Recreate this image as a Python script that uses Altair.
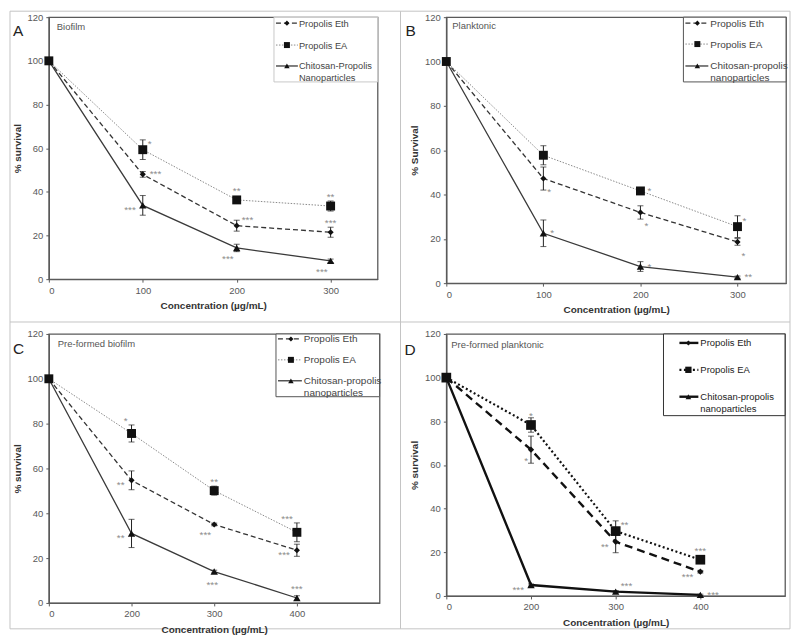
import altair as alt
import pandas as pd

FONT = "Liberation Sans"
XTITLE = "Concentration (µg/mL)"
KEYS = ["eth", "ea", "cp"]

# ---------------- Panel A: Biofilm ----------------
A_conc = [0, 100, 200, 300]
A_eth = [100, 48.0, 24.5, 21.5]
A_eth_err = [0, 1.3, 2.5, 2.3]
A_ea = [100, 59.3, 36.3, 33.5]
A_ea_err = [0, 4.5, 1.0, 2.3]
A_cp = [100, 33.8, 14.3, 8.4]
A_cp_err = [0, 4.5, 1.7, 0.8]
A_eth_sig = ["", "***", "***", "***"]
A_ea_sig = ["", "*", "**", "**"]
A_cp_sig = ["", "***", "***", "***"]
A_eth_side = ["", "R", "AR", "A"]
A_ea_side = ["", "AR", "A", "A"]
A_cp_side = ["", "L", "BL", "BL"]
A_legend = ["Propolis Eth", "Propolis EA", "Chitosan-Propolis\nNanoparticles"]

# ---------------- Panel B: Planktonic ----------------
B_conc = [0, 100, 200, 300]
B_eth = [100, 47.2, 31.9, 18.6]
B_eth_err = [0, 5.2, 3.0, 1.5]
B_ea = [100, 57.7, 41.6, 25.5]
B_ea_err = [0, 4.3, 1.5, 4.9]
B_cp = [100, 22.5, 7.5, 2.7]
B_cp_err = [0, 6.0, 2.2, 0.5]
B_eth_sig = ["", "*", "*", "*"]
B_ea_sig = ["", "", "*", "*"]
B_cp_sig = ["", "*", "*", "**"]
B_eth_side = ["", "BR", "BR", "BR"]
B_ea_side = ["", "", "R", "AR"]
B_cp_side = ["", "R", "R", "R"]
B_legend = ["Propolis Eth", "Propolis EA", "Chitosan-propolis\nnanoparticles"]

# ---------------- Panel C: Pre-formed biofilm ----------------
C_conc = [0, 200, 300, 400]
C_eth = [100, 54.7, 35.0, 23.5]
C_eth_err = [0, 4.2, 0.6, 2.7]
C_ea = [100, 75.6, 50.1, 31.5]
C_ea_err = [0, 3.8, 2.0, 4.2]
C_cp = [100, 31.0, 14.0, 2.2]
C_cp_err = [0, 6.3, 0.6, 1.0]
C_eth_sig = ["", "**", "***", "***"]
C_ea_sig = ["", "*", "**", "***"]
C_cp_sig = ["", "**", "***", "***"]
C_eth_side = ["", "L", "BL", "L"]
C_ea_side = ["", "AL", "A", "AL"]
C_cp_side = ["", "L", "B", "A"]
C_legend = ["Propolis Eth", "Propolis EA", "Chitosan-propolis\nnanoparticles"]

# ---------------- Panel D: Pre-formed planktonic ----------------
D_conc = [0, 200, 300, 400]
D_eth = [100, 67.0, 24.8, 11.1]
D_eth_err = [0, 6.2, 5.0, 0.6]
D_ea = [100, 78.3, 29.7, 16.6]
D_ea_err = [0, 3.3, 4.7, 1.0]
D_cp = [100, 5.0, 2.0, 0.5]
D_cp_err = [0, 0.5, 0.5, 0.3]
D_eth_sig = ["", "*", "**", "***"]
D_ea_sig = ["", "*", "**", "***"]
D_cp_sig = ["", "***", "***", "***"]
D_eth_side = ["", "BL", "L", "L"]
D_ea_side = ["", "A", "AR", "A"]
D_cp_side = ["", "L", "AR", "R"]
D_legend = ["Propolis Eth", "Propolis EA", "Chitosan-propolis\nnanoparticles"]


def frame_of(conc, vals, errs, sigs, sides):
    rows = []
    for k, v, e, s, sd in zip(KEYS, vals, errs, sigs, sides):
        for i, c in enumerate(conc):
            rows.append({"series": k, "conc": c, "pos": i, "mean": v[i],
                         "lo": v[i] - e[i], "hi": v[i] + e[i], "err": e[i],
                         "sig": s[i], "side": sd[i]})
    return pd.DataFrame(rows)


dfA = frame_of(A_conc, [A_eth, A_ea, A_cp], [A_eth_err, A_ea_err, A_cp_err],
               [A_eth_sig, A_ea_sig, A_cp_sig], [A_eth_side, A_ea_side, A_cp_side])
dfB = frame_of(B_conc, [B_eth, B_ea, B_cp], [B_eth_err, B_ea_err, B_cp_err],
               [B_eth_sig, B_ea_sig, B_cp_sig], [B_eth_side, B_ea_side, B_cp_side])
dfC = frame_of(C_conc, [C_eth, C_ea, C_cp], [C_eth_err, C_ea_err, C_cp_err],
               [C_eth_sig, C_ea_sig, C_cp_sig], [C_eth_side, C_ea_side, C_cp_side])
dfD = frame_of(D_conc, [D_eth, D_ea, D_cp], [D_eth_err, D_ea_err, D_cp_err],
               [D_eth_sig, D_ea_sig, D_cp_sig], [D_eth_side, D_ea_side, D_cp_side])

# ---------------- styles ----------------
STYLE_LIGHT = {
    "eth": dict(dash=[5, 3], color="#333333", width=1.3, shape="diamond", size=38, lsize=26),
    "ea": dict(dash=[1.5, 1.5], color="#8a8a8a", width=1.0, shape="square", size=80, lsize=36),
    "cp": dict(dash=None, color="#3a3a3a", width=1.3, shape="triangle-up", size=55, lsize=30),
}
STYLE_BOLD = {
    "eth": dict(dash=[8, 5], color="#111111", width=2.4, shape="diamond", size=40, lsize=26),
    "ea": dict(dash=[2, 2.5], color="#111111", width=2.2, shape="square", size=95, lsize=40),
    "cp": dict(dash=None, color="#111111", width=2.4, shape="triangle-up", size=55, lsize=32),
}
LEGEND_BOLD = dict(STYLE_BOLD)
LEGEND_BOLD["eth"] = dict(STYLE_BOLD["eth"], dash=None)

SIDES = {
    "R": ("left", 7, -3),
    "AR": ("left", 5, -9),
    "BR": ("left", 4, 11),
    "L": ("right", -7, 2),
    "AL": ("right", -4, -16),
    "BL": ("right", -3, 8),
    "A": ("center", 0, -12),
    "B": ("center", -2, 11),
}
STAR_V = 6

ONE = pd.DataFrame({"k": [0]})


def line_kw(st):
    kw = dict(color=st["color"], strokeWidth=st["width"])
    if st["dash"]:
        kw["strokeDash"] = st["dash"]
    return kw


def panel(df, conc, cat, L, styles, legend_labels, legend_styles, frame=False):
    xf = "pos" if cat else "conc"
    if cat:
        labs = [str(c) for c in conc]
        expr = "[" + ",".join("'%s'" % s for s in labs) + "][datum.value]"
        xaxis = alt.Axis(values=list(range(len(conc))), labelExpr=expr, title=XTITLE)
        xdom = [0, len(conc)]
    else:
        xaxis = alt.Axis(values=conc, title=XTITLE)
        xdom = [0, 350]

    def X():
        return alt.X(f"{xf}:Q", scale=alt.Scale(domain=xdom, nice=False, zero=False), axis=xaxis)

    def Y(f):
        return alt.Y(f"{f}:Q", scale=alt.Scale(domain=[0, 120], nice=False),
                     axis=alt.Axis(values=list(range(0, 121, 20)), title=L["ytitle"]))

    layers = []
    if frame:
        layers.append(alt.Chart(ONE).mark_rect(fill="white", fillOpacity=0, stroke="#c4c4c4", strokeWidth=1).encode(
            x=alt.value(-39), x2=alt.value(744), y=alt.value(-6), y2=alt.value(614)))
        layers.append(alt.Chart(ONE).mark_rule(color="#c4c4c4", strokeWidth=1).encode(
            x=alt.value(353), y=alt.value(-6), y2=alt.value(614)))
        layers.append(alt.Chart(ONE).mark_rule(color="#c4c4c4", strokeWidth=1).encode(
            y=alt.value(306), x=alt.value(-39), x2=alt.value(744)))

    for k in KEYS:
        layers.append(alt.Chart(df[df.series == k]).mark_line(**line_kw(styles[k])).encode(x=X(), y=Y("mean")))
    eb = df[df.err > 0]
    layers.append(alt.Chart(eb).mark_rule(color="#222222", strokeWidth=1).encode(x=X(), y=Y("lo"), y2="hi:Q"))
    for f in ("lo", "hi"):
        layers.append(alt.Chart(eb).mark_tick(orient="horizontal", size=6, thickness=1, color="#222222")
                      .encode(x=X(), y=Y(f)))
    for k in KEYS:
        st = styles[k]
        layers.append(alt.Chart(df[df.series == k]).mark_point(
            shape=st["shape"], size=st["size"], filled=True, color="#111111", opacity=1
        ).encode(x=X(), y=Y("mean")))
    sig = df[df.sig != ""]
    for code, (al, dx, dy) in SIDES.items():
        sub = sig[sig.side == code]
        if len(sub) == 0:
            continue
        layers.append(alt.Chart(sub).mark_text(
            align=al, baseline="alphabetic", dx=dx, dy=dy + STAR_V, fontSize=10,
            color="#8c8c8c", font=FONT
        ).encode(x=X(), y=Y("mean"), text="sig:N"))

    # legend box
    bx0, bx1, by0, by1 = L["box"]
    layers.append(alt.Chart(ONE).mark_rect(fill="white", stroke=L["box_stroke"], strokeWidth=1).encode(
        x=alt.value(bx0), x2=alt.value(bx1), y=alt.value(by0), y2=alt.value(by1)))
    for k, lab, ly in zip(KEYS, legend_labels, L["ly"]):
        st = legend_styles[k]
        layers.append(alt.Chart(ONE).mark_rule(**line_kw(st)).encode(
            x=alt.value(L["sx"][0]), x2=alt.value(L["sx"][1]), y=alt.value(ly)))
        layers.append(alt.Chart(ONE).mark_point(
            shape=st["shape"], size=st["lsize"], filled=True, color="#111111", opacity=1
        ).encode(x=alt.value(L["mx"]), y=alt.value(ly)))
        layers.append(alt.Chart(pd.DataFrame({"t": [lab]})).mark_text(
            align="left", baseline="alphabetic", dy=3.5, fontSize=L["lfs"], color=L["lcol"],
            font=FONT, lineBreak="\n", lineHeight=12
        ).encode(x=alt.value(L["tx"]), y=alt.value(ly), text="t:N"))

    # panel title and letter
    layers.append(alt.Chart(ONE).mark_text(
        align="left", baseline="middle", fontSize=9.5, color="#555555", font=FONT, text=L["title"]
    ).encode(x=alt.value(L["title_xy"][0]), y=alt.value(L["title_xy"][1])))
    layers.append(alt.Chart(ONE).mark_text(
        align="left", baseline="alphabetic", fontSize=15.5, color="#222222", font=FONT, text=L["letter"]
    ).encode(x=alt.value(L["letter_xy"][0]), y=alt.value(L["letter_xy"][1])))

    return alt.layer(*layers).properties(width=L["w"], height=L["h"])


LA = dict(w=330, h=263, ytitle="% survival", title="Biofilm", title_xy=(8, 10), letter="A",
          letter_xy=(-36, 19), box=(226, 330, 0, 65), box_stroke="#c8c8c8", ly=[6, 28, 49],
          sx=(228, 250), mx=239, tx=251, lfs=9.3, lcol="#444444")
LB = dict(w=341, h=267, ytitle="% Survival", title="Planktonic", title_xy=(6, 9), letter="B",
          letter_xy=(-41, 19), box=(238, 341, 0, 65), box_stroke="#555555", ly=[6, 27, 49],
          sx=(240, 263), mx=252, tx=265, lfs=10, lcol="#444444")
LC = dict(w=332, h=270, ytitle="% survival", title="Pre-formed biofilm", title_xy=(9, 10), letter="C",
          letter_xy=(-36, 20), box=(228, 332, 0, 63), box_stroke="#555555", ly=[5, 26, 47],
          sx=(230, 254), mx=243, tx=256, lfs=10, lcol="#444444")
LD = dict(w=340, h=263, ytitle="% survival", title="Pre-formed planktonic", title_xy=(5, 11), letter="D",
          letter_xy=(-42, 21), box=(218, 340, 0, 82), box_stroke="#333333", ly=[9, 36, 63],
          sx=(234, 253), mx=243, tx=255, lfs=9.5, lcol="#222222")

pA = panel(dfA, A_conc, False, LA, STYLE_LIGHT, A_legend, STYLE_LIGHT, frame=True)
pB = panel(dfB, B_conc, False, LB, STYLE_LIGHT, B_legend, STYLE_LIGHT)
pC = panel(dfC, C_conc, True, LC, STYLE_LIGHT, C_legend, STYLE_LIGHT)
pD = panel(dfD, D_conc, True, LD, STYLE_BOLD, D_legend, LEGEND_BOLD)

chart = alt.concat(
    pA, pB, pC, pD, columns=2, spacing={"row": 51, "column": 67}, bounds="flush"
).properties(padding=0).configure_view(
    stroke="#5a5a5a", strokeWidth=1.3
).configure_axis(
    labelFont=FONT, labelFontSize=9.5, labelColor="#595959",
    titleFont=FONT, titleFontSize=10, titleFontWeight="bold", titleColor="#333333",
    domainColor="#5a5a5a", domainWidth=1.3, tickColor="#5a5a5a", tickSize=3,
    labelPadding=3, grid=False
).configure_axisX(titlePadding=6).configure_axisY(titlePadding=5)

chart.save("out.html", embed_options={"renderer": "svg", "actions": False})
